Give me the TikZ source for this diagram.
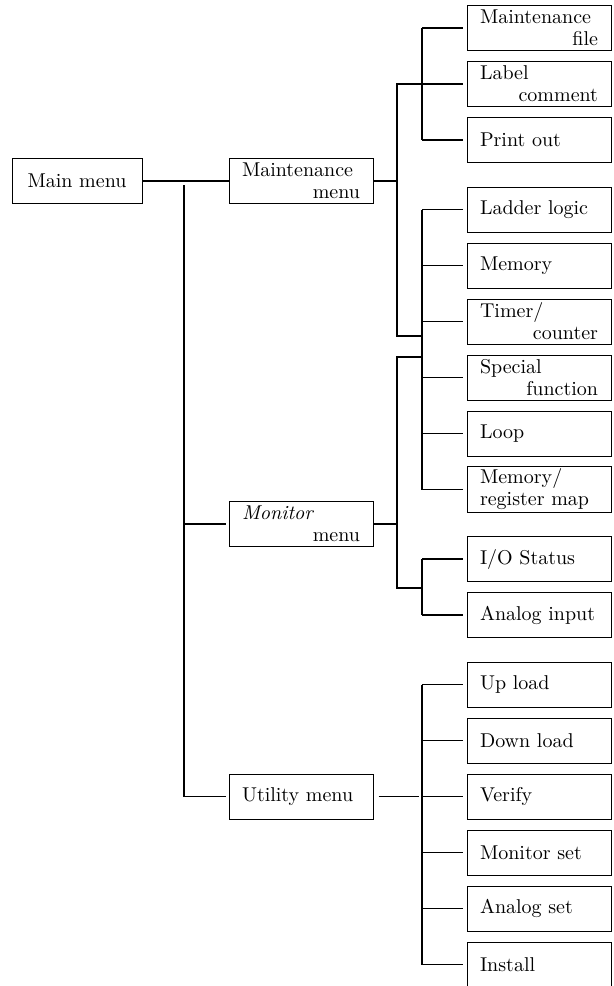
\documentclass[tikz,border=0pt]{standalone}
\usepackage{tikz}
\usetikzlibrary{positioning}

\newcommand{\rgt}[1]{\hspace*{\fill}#1}

\begin{document}
\begin{tikzpicture}[x=0.5pt, y=-0.5pt, node distance=28pt, on grid,
        menu/.style={draw, rectangle, line width=0.5pt, minimum height=22.5pt,
            text width=59pt, inner xsep=6.5pt, inner ysep=1pt, align=left,
            font=\fontsize{10}{11}\selectfont},
        link/.style={line width=0.55pt}]
        \useasboundingbox (0,0) rectangle (614,986);

        % right column
        \node[menu] (mfile) at (539,28) {Maintenance\\\rgt{file}};
        \node[menu] (label) [below=of mfile] {Label\\\rgt{comment}};
        \node[menu] (print) [below=of label] {Print out};
        \node[menu] (ladder) [below=34.75pt of print] {Ladder logic};
        \node[menu] (memory) [below=of ladder] {Memory};
        \node[menu] (timer) [below=of memory] {Timer/\\\rgt{counter}};
        \node[menu] (special) [below=of timer] {Special\\\rgt{function}};
        \node[menu] (loop) [below=of special] {Loop};
        \node[menu] (regmap) [below=of loop] {Memory/\\register map};
        \node[menu] (iostat) [below=34.75pt of regmap] {I/O Status};
        \node[menu] (anain) [below=of iostat] {Analog input};
        \node[menu] (upload) [below=34.75pt of anain] {Up load};
        \node[menu] (download) [below=of upload] {Down load};
        \node[menu] (verify) [below=of download] {Verify};
        \node[menu] (monset) [below=of verify] {Monitor set};
        \node[menu] (anaset) [below=of monset] {Analog set};
        \node[menu] (install) [below=of anaset] {Install};

        % menus
        \node[menu, text width=52pt, align=center] (mainmenu) at (77,181) {Main menu};
        \node[menu] (maint) [right=112pt of mainmenu] {Maintenance\\\rgt{menu}};
        \node[menu] (monitor) at (301,524) {\textit{Monitor}\\\rgt{menu}};
        \node[menu] (utility) [left=119pt of verify] {Utility menu};

        \coordinate (trunk) at (184,185);
        \coordinate (bx) at (397,0);
        \coordinate (sx) at (422,0);
        \coordinate (mlow) at (397,336);
        \coordinate (mtop) at (397,357);
        \coordinate (mbot) at (397,588);

        % main trunk
        \draw[link] (mainmenu) -- (maint);
        \draw[link, shorten >=1.5pt] (trunk) |- (utility.west);
        \draw[link, shorten >=1.5pt] (trunk |- monitor.west) -- (monitor.west);

        % brackets
        \draw[link] (maint.east) -- (maint.east -| bx);
        \draw[link] (sx |- label.west) -| (mlow) -- (mlow -| sx);
        \draw[link] (monitor.east) -- (monitor.east -| bx);
        \draw[link] (mtop -| sx) -- (mtop) -- (mbot) -- (mbot -| sx);
        \draw[link, shorten <=2.5pt, shorten >=1.5pt] (utility.east) -- (sx |- utility.east);

        \draw[link] (sx |- mfile.west) -- (sx |- print.west);
        \draw[link] (sx |- ladder.west) -- (sx |- regmap.west);
        \draw[link] (sx |- iostat.west) -- (sx |- anain.west);
        \draw[link] (sx |- upload.west) -- (sx |- install.west);
        \foreach \n in {mfile, label, print, ladder, memory, timer, special, loop, regmap,
                iostat, anain, upload, download, verify, monset, anaset, install}
            \draw[link, shorten >=2pt] (sx |- \n.west) -- (\n.west);
    \end{tikzpicture}
\end{document}
